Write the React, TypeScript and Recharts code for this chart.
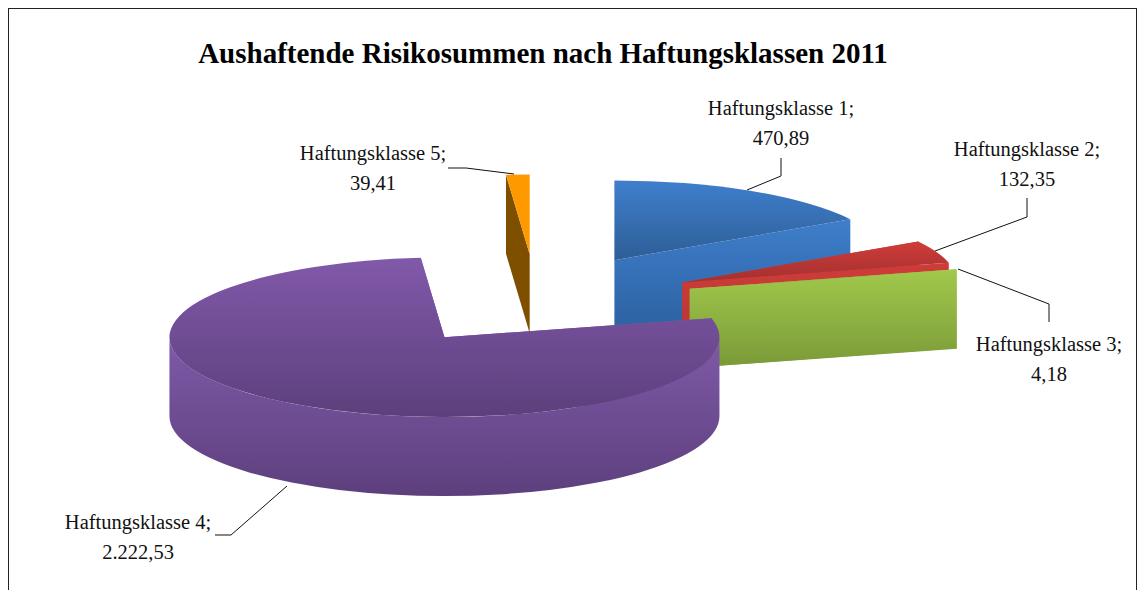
import React from "react";
import { PieChart, Pie, Cell } from "recharts";

const classNames = ["Haftungsklasse 1", "Haftungsklasse 2", "Haftungsklasse 3", "Haftungsklasse 4", "Haftungsklasse 5"];
const riskValues = [470.89, 132.35, 4.18, 2222.53, 39.41];
const valueLabels = ["470,89", "132,35", "4,18", "2.222,53", "39,41"];

const tableData = classNames.map((name, i) => ({ name, value: riskValues[i] }));

// top, faceBottom, wallTop, wallBottom per slice
const COLORS = [
  ["#3f7fcd", "#2d5e96", "#3e7ecb", "#2c5f9e"],
  ["#d03c39", "#a13130", "#cf3c39", "#b23432"],
  ["#a2cb4c", "#7f9f3b", "#a1c94b", "#7a9938"],
  ["#8159aa", "#5d3f7c", "#7f5aa8", "#5d3f7d"],
  ["#ff9900", "#ff9900", "#7f4f00", "#7f4f00"],
];

const FONT = "'Liberation Serif', serif";
const CX = 536.5;
const CY = 300;
const RADIUS = 275;
const TILT = 0.29;
const DEPTH = 79;
const EXPLODE = 158;

// label anchor (centre x, first baseline) and leader polyline, in label order
const LABEL_POS = [
  { x: 781, y: 115, leader: "781,158 781,176 747,190" },
  { x: 1027, y: 156, leader: "1027,198 1027,217 935,251" },
  { x: 1049, y: 351, leader: "958,269 1049,304 1049,322" },
  { x: 138, y: 529, leader: "287,486 231,535 215,535" },
  { x: 373, y: 160, leader: "448,168 466,168 514,174" },
];

const rad = (d: number) => (d * Math.PI) / 180;

function Slice3D(props: any) {
  const { startAngle, endAngle, outerRadius, index, cx, cy } = props;
  // recharts angles run counter-clockwise from 3 o'clock, turn them into clock angles
  const a0 = 90 - startAngle;
  const a1 = 90 - endAngle;
  const mid = (a0 + a1) / 2;
  const ox = cx + EXPLODE * Math.sin(rad(mid));
  const oy = cy - EXPLODE * TILT * Math.cos(rad(mid));
  const ry = outerRadius * TILT;
  const pt = (a: number, drop = 0) => [
    ox + outerRadius * Math.sin(rad(a)),
    oy - ry * Math.cos(rad(a)) + drop,
  ];
  const arc = (from: number, to: number, drop = 0, sweep = 1) => {
    const [x, y] = pt(to, drop);
    return `A${outerRadius} ${ry} 0 ${Math.abs(to - from) > 180 ? 1 : 0} ${sweep} ${x} ${y}`;
  };
  const wall = (a: number) => {
    const [x, y] = pt(a);
    return `M${ox} ${oy}L${x} ${y}L${x} ${y + DEPTH}L${ox} ${oy + DEPTH}Z`;
  };
  const [sx, sy] = pt(a0);
  const face = `M${ox} ${oy}L${sx} ${sy}${arc(a0, a1)}Z`;

  // the outer rim only shows on the front half of the ellipse
  const r0 = Math.max(a0, 90);
  const r1 = Math.min(a1, 270);
  let rim = "";
  if (r1 > r0) {
    const [x0, y0] = pt(r0);
    const [x1, y1] = pt(r1, DEPTH);
    rim = `M${x0} ${y0}${arc(r0, r1)}L${x1} ${y1}${arc(r1, r0, DEPTH, 0)}Z`;
  }
  const c = COLORS[index];
  return (
    <g>
      <defs>
        <linearGradient id={`face${index}`} x1="0" y1="0" x2="0" y2="1">
          <stop offset="0" stopColor={c[0]} />
          <stop offset="1" stopColor={c[1]} />
        </linearGradient>
        <linearGradient id={`wall${index}`} x1="0" y1="0" x2="0" y2="1">
          <stop offset="0" stopColor={c[2]} />
          <stop offset="1" stopColor={c[3]} />
        </linearGradient>
      </defs>
      <path d={wall(a0)} fill={`url(#wall${index})`} />
      <path d={wall(a1)} fill={`url(#wall${index})`} />
      {rim && <path d={rim} fill={`url(#wall${index})`} />}
      <path d={face} fill={`url(#face${index})`} />
    </g>
  );
}

function SliceLabel(props: any) {
  const pos = LABEL_POS[props.index];
  return (
    <g>
      <polyline points={pos.leader} fill="none" stroke="#111" strokeWidth={1} />
      <text x={pos.x} y={pos.y} textAnchor="middle" fontFamily={FONT} fontSize={20.5} fill="#111">
        {classNames[props.index]};
      </text>
      <text x={pos.x} y={pos.y + 30} textAnchor="middle" fontFamily={FONT} fontSize={20.5} fill="#111">
        {valueLabels[props.index]}
      </text>
    </g>
  );
}

export default function App() {
  return (
    <div style={{ position: "absolute", left: 0, top: 0, width: 1139, height: 590, background: "#fff", overflow: "hidden" }}>
      <div
        style={{
          position: "absolute",
          left: 8,
          top: 8,
          width: 1129,
          height: 600,
          border: "1.5px solid #222",
          boxSizing: "border-box",
        }}
      />
      <div style={{ position: "absolute", left: 0, top: 0 }}>
        <PieChart width={1139} height={590} margin={{ top: 0, right: 0, bottom: 0, left: 0 }}>
          <text x={543} y={63} textAnchor="middle" fontFamily={FONT} fontWeight="bold" fontSize={29} fill="#000">
            Aushaftende Risikosummen nach Haftungsklassen 2011
          </text>
          <Pie
            data={tableData}
            dataKey="value"
            nameKey="name"
            cx={CX}
            cy={CY}
            innerRadius={0}
            outerRadius={RADIUS}
            startAngle={90}
            endAngle={-270}
            paddingAngle={0}
            stroke="none"
            isAnimationActive={false}
            shape={Slice3D}
            label={SliceLabel}
            labelLine={false}
          >
            {tableData.map((d) => (
              <Cell key={d.name} />
            ))}
          </Pie>
        </PieChart>
      </div>
    </div>
  );
}
